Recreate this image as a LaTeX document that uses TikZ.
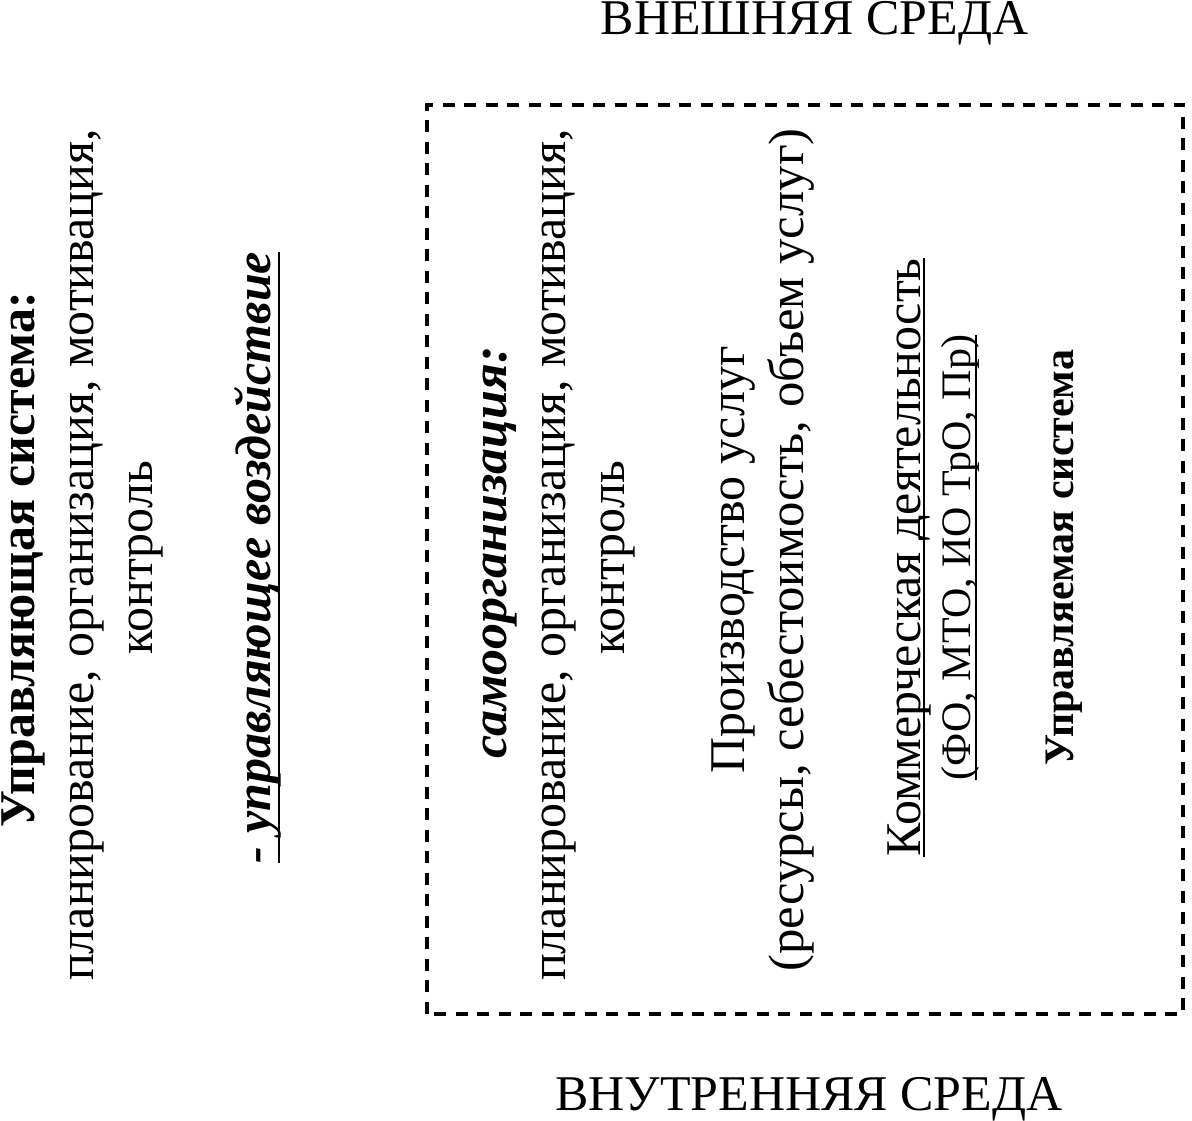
\documentclass[tikz,border=0pt]{standalone}
\usepackage{fontspec}
\setmainfont{Liberation Serif}
\newcommand\myul[2]{\setbox0\hbox{#2}\rlap{\rule[-#1]{\wd0}{2.5pt}}\box0}
\begin{document}
\begin{tikzpicture}[x=1pt,y=1pt,
  txt/.style={inner sep=0pt, font=\fontsize{50}{58}\selectfont},
  vtxt/.style={txt, rotate=90, anchor=base},
  bf/.style={font=\fontsize{50}{58}\selectfont\bfseries},
  bi/.style={font=\fontsize{50}{58}\selectfont\bfseries\itshape},
  smalltxt/.style={font=\fontsize{42}{50}\selectfont},
  smallbf/.style={font=\fontsize{42}{50}\selectfont\bfseries},
  frame/.style={draw, line width=3.2pt, dash pattern=on 12pt off 9.5pt}]
\useasboundingbox (0,0) rectangle (1192,1120);
\node[txt, anchor=base] (ext) at (814.5,1085) {ВНЕШНЯЯ СРЕДА};
\node[txt, anchor=base] (int) at (809,10) {ВНУТРЕННЯЯ СРЕДА};
\draw[frame] (427,106) rectangle (1183,1015);
\node[vtxt, bf] (cs) at (34,560) {Управляющая система:};
\node[vtxt] (cs1) at (93,565) {планирование, организация, мотивация,};
\node[vtxt] (cs2) at (152,562.5) {контроль};
\node[vtxt, bi] (act) at (270,562.5) {\myul{10pt}{- управляющее воздействие}};
\node[vtxt, bi] (so) at (506,567.5) {\scalebox{1.04}[1]{самоорганизация:}};
\node[vtxt] (so1) at (565,565) {планирование, организация, мотивация,};
\node[vtxt] (so2) at (624,562.5) {контроль};
\node[vtxt] (pr) at (744,560) {Производство услуг};
\node[vtxt] (pr1) at (803,570) {\scalebox{1.015}[1]{(ресурсы, себестоимость, объем услуг)}};
\node[vtxt] (cm) at (920,562.5) {\myul{5pt}{Коммерческая деятельность}};
\node[vtxt, smalltxt] (cm1) at (970,562.5) {\myul{7pt}{(ФО, МТО, ИО ТрО, Пр)}};
\node[vtxt, smallbf] (ms) at (1073,562.5) {Управляемая система};
\end{tikzpicture}
\end{document}
